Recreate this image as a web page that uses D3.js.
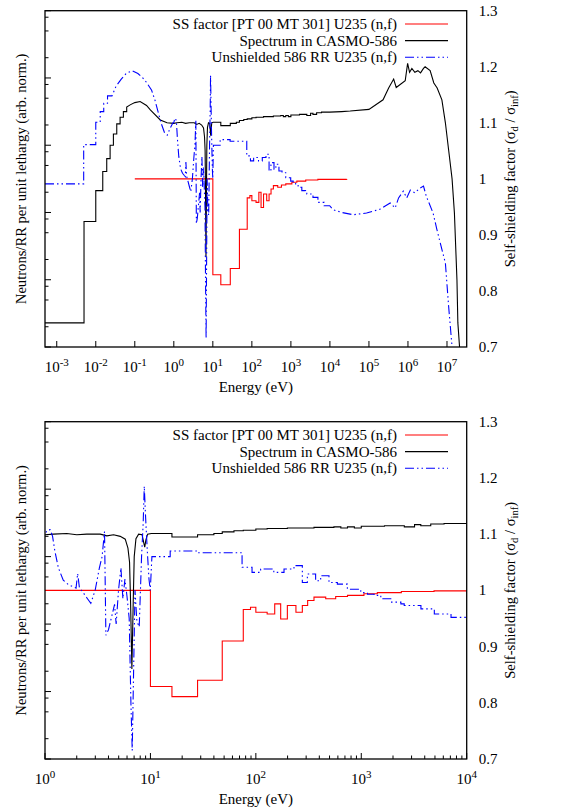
<!DOCTYPE html>
<html>
<head>
<meta charset="utf-8">
<script src="https://cdn.jsdelivr.net/npm/d3@7"></script>
<style>
  body { margin: 0; background: #fff; }
</style>
</head>
<body>
<div id="chart"></div>
<script>
// series data, energies in eV, values in self-shielding-factor units
// SS factor: group lower bounds and group values (step after)
const ssE = [0.1, 10, 16, 28, 48, 76, 89, 100, 128, 151, 172, 199, 240, 276, 310, 356, 460, 572, 740, 1060, 1420, 2400, 4900, 27000];
const ssV = [1.0, 0.829, 0.811, 0.840, 0.910, 0.966, 0.970, 0.961, 0.958, 0.976, 0.949, 0.973, 0.961, 0.973, 0.982, 0.988, 0.985, 0.989, 0.991, 0.994, 0.996, 0.998, 0.999, 0.9995];

// spectrum in CASMO-586
const specE = [5e-4, 0.005, 0.005, 0.01, 0.01, 0.0151, 0.0151, 0.0191, 0.0191, 0.0233, 0.0233, 0.0283, 0.0283, 0.0345, 0.0345, 0.042, 0.042, 0.051, 0.051, 0.062, 0.062, 0.076, 0.1, 0.137, 0.2, 0.25, 0.45, 0.67,
  1.0, 1.2, 1.61, 2.0, 2.49, 3.34, 3.86, 4.47, 5.17, 5.77, 6.12, 6.34, 6.48, 6.67, 6.87, 7.02, 7.29, 7.73, 8.33, 8.64, 8.83, 9.06, 9.4, 10.2,
  16, 16, 28, 28, 40, 40, 48, 48, 62, 62, 76, 76, 100, 100, 128, 128, 199, 199, 356, 356, 550, 550, 640, 640, 740, 740, 860, 860, 1000, 1000, 1660, 1660, 2560, 2560, 3200, 3200, 3670, 3670, 4560, 4560, 6100, 6100, 9800,
  2e4, 3.3e4, 1e5, 2.3e5, 3.2e5, 4.3e5, 5e5, 8.5e5, 9.8e5, 1.1e6, 1.26e6, 1.5e6, 1.8e6, 2.1e6, 2.5e6, 2.75e6, 3.7e6, 4.6e6, 5.6e6, 7.4e6, 9.1e6, 1.1e7, 1.35e7, 1.55e7, 1.8e7, 1.9e7, 2.1e7];
const specV = [0.743, 0.743, 0.924, 0.924, 0.979, 0.979, 1.013, 1.013, 1.036, 1.036, 1.06, 1.06, 1.08, 1.08, 1.098, 1.098, 1.11, 1.11, 1.12, 1.12, 1.128, 1.132, 1.136, 1.138, 1.131, 1.123, 1.105, 1.1,
  1.099, 1.1, 1.101, 1.099, 1.1, 1.1, 1.097, 1.099, 1.096, 1.091, 1.075, 1.05, 0.98, 0.86, 0.98, 1.06, 1.092, 1.1, 1.099, 1.085, 1.077, 1.09, 1.1, 1.101,
  1.101, 1.095, 1.095, 1.099, 1.099, 1.101, 1.101, 1.104, 1.104, 1.106, 1.106, 1.107, 1.107, 1.109, 1.109, 1.11, 1.11, 1.111, 1.111, 1.112, 1.112, 1.113, 1.113, 1.111, 1.111, 1.113, 1.113, 1.111, 1.111, 1.114, 1.114, 1.115, 1.115, 1.113, 1.113, 1.117, 1.117, 1.115, 1.115, 1.118, 1.118, 1.119, 1.119, 1.12,
  1.121, 1.124, 1.141, 1.162, 1.178, 1.163, 1.175, 1.206, 1.19, 1.197, 1.19, 1.193, 1.189, 1.197, 1.2, 1.193, 1.171, 1.162, 1.141, 1.1, 1.052, 1.0, 0.939, 0.82, 0.743, 0.7, 0.65];

// unshielded 586 RR U235 (n,f)
const rrE = [5e-4, 0.0049, 0.0049, 0.01, 0.01, 0.013, 0.013, 0.016, 0.016, 0.02, 0.02, 0.026, 0.033, 0.045, 0.06, 0.085, 0.12, 0.16, 0.2, 0.27, 0.33, 0.4, 0.48, 0.58, 0.68, 0.8, 0.95,
  1.0, 1.05, 1.12, 1.18, 1.24, 1.34, 1.49, 1.67, 1.86, 1.97, 2.04, 2.12, 2.32, 2.53, 2.72, 2.99, 3.28, 3.48, 3.67, 3.78, 4.0, 4.31, 4.57, 4.73, 4.98, 5.25, 5.48, 5.73, 5.99, 6.29, 6.53, 6.72, 6.93, 7.14, 7.44, 7.83, 8.24, 8.54, 8.74, 9.0, 9.34, 9.69, 9.97, 10.33,
  15.4, 15.4, 27.7, 27.7, 74, 74, 92, 92, 111, 111, 148, 148, 185, 185, 230, 230, 276, 276, 308, 308, 369, 369, 412, 412, 494, 494, 593, 593, 738, 738, 989, 989, 1145, 1145, 1324, 1324, 1532, 1532, 1905, 1905, 2375, 2375, 2555, 2555, 3680, 3680, 4930, 4930, 7100, 7100, 9860,
  1.2e4, 2e4, 4e4, 8.7e4, 1.95e5, 3.5e5, 4.7e5, 5.75e5, 7.6e5, 9.3e5, 1.15e6, 1.5e6, 2e6, 2.5e6, 2.95e6, 4.4e6, 5.5e6, 7.4e6, 9.1e6, 1.1e7, 1.35e7, 1.5e7];
const rrV = [0.991, 0.991, 1.061, 1.061, 1.101, 1.101, 1.12, 1.12, 1.135, 1.135, 1.148, 1.148, 1.165, 1.178, 1.188, 1.193, 1.188, 1.18, 1.172, 1.158, 1.14, 1.118, 1.098, 1.082, 1.078, 1.09, 1.1,
  1.1, 1.107, 1.108, 1.096, 1.07, 1.04, 1.018, 1.01, 1.006, 1.004, 1.03, 1.005, 0.995, 0.985, 0.977, 1.0, 1.04, 1.06, 1.105, 0.92, 0.93, 0.955, 0.975, 0.94, 1.0, 1.04, 0.985, 1.02, 0.99, 0.95, 0.8, 0.715, 0.86, 1.0, 0.945, 0.935, 1.06, 1.12, 1.185, 1.13, 1.07, 1.02, 1.0, 1.06,
  1.06, 1.07, 1.07, 1.067, 1.067, 1.041, 1.041, 1.032, 1.032, 1.038, 1.038, 1.032, 1.032, 1.038, 1.038, 1.044, 1.044, 1.014, 1.014, 1.029, 1.029, 1.017, 1.017, 1.026, 1.026, 1.014, 1.014, 1.011, 1.011, 1.002, 1.002, 0.996, 0.996, 0.993, 0.993, 0.991, 0.991, 0.985, 0.985, 0.979, 0.979, 0.976, 0.976, 0.973, 0.973, 0.967, 0.967, 0.958, 0.958, 0.952, 0.952,
  0.945, 0.94, 0.936, 0.939, 0.946, 0.957, 0.948, 0.966, 0.978, 0.966, 0.98, 0.975, 0.983, 0.987, 0.969, 0.939, 0.91, 0.874, 0.85, 0.773, 0.7, 0.65];

const legendLabels = ["SS factor [PT 00 MT 301] U235 (n,f)", "Spectrum in CASMO-586", "Unshielded 586 RR U235 (n,f)"];
const rightTicks = [0.7, 0.8, 0.9, 1.0, 1.1, 1.2, 1.3];

const width = 565, height = 812;
const fs = 15;
const serif = '"Liberation Serif", "Times New Roman", Times, "DejaVu Serif", serif';

const svg = d3.select('#chart').append('svg')
    .attr('width', width)
    .attr('height', height)
    .attr('font-family', serif)
    .style('font-family', serif);

const ss = ssE.map((e, i) => ({e: e, v: ssV[i]}));
const spec = specE.map((e, i) => ({e: e, v: specV[i]}));
const rr = rrE.map((e, i) => ({e: e, v: rrV[i]}));

const series = [
    {data: ss, color: "#ff0000", dash: null, curve: d3.curveStepAfter},
    {data: spec, color: "#000000", dash: null, curve: d3.curveLinear},
    {data: rr, color: "#0000ff", dash: "9,3,1.5,3,1.5,3", curve: d3.curveLinear}
];

const panels = [
    {id: "top", left: 45, right: 466.7, top: 10.7, bottom: 347, xDomain: [5e-4, 3.2e7], decades: d3.range(-3, 8), minor: false},
    {id: "bot", left: 45, right: 466.7, top: 421.7, bottom: 759, xDomain: [1, 1e4], decades: d3.range(0, 5), minor: true}
];

panels.forEach(drawPanel);

function drawPanel(p) {
    let g = svg.append('g').attr('id', p.id);

    let x = d3.scaleLog().domain(p.xDomain).range([p.left, p.right]);
    let y = d3.scaleLinear().domain([0.7, 1.3]).range([p.bottom, p.top]);
    let yL = d3.scaleLog().domain([1, 1e5]).range([p.bottom, p.top]);

    g.append('clipPath').attr('id', 'clip-' + p.id)
        .append('rect')
        .attr('x', p.left).attr('y', p.top)
        .attr('width', p.right - p.left).attr('height', p.bottom - p.top);

    // left axis: log ticks, no labels
    let leftTicks = [];
    for (let k = 0; k < 5; k++) {
        [1, 2, 5, 8].forEach(m => leftTicks.push({v: m * Math.pow(10, k), major: m === 1}));
    }
    leftTicks.push({v: 1e5, major: true});
    g.selectAll('.ltick')
        .data(leftTicks)
        .join('line')
        .attr('class', 'ltick')
        .attr('x1', p.left)
        .attr('x2', d => p.left + (d.major ? 6 : 3.5))
        .attr('y1', d => yL(d.v))
        .attr('y2', d => yL(d.v))
        .attr('stroke', '#000')
        .attr('stroke-width', 1);

    // x ticks
    let xt = p.decades.map(d => ({v: Math.pow(10, d), major: true, d: d}));
    if (p.minor) {
        p.decades.slice(0, -1).forEach(d => {
            d3.range(2, 10).forEach(m => xt.push({v: m * Math.pow(10, d), major: false}));
        });
    }
    g.selectAll('.xtick')
        .data(xt)
        .join('line')
        .attr('class', 'xtick')
        .attr('x1', d => x(d.v))
        .attr('x2', d => x(d.v))
        .attr('y1', p.bottom)
        .attr('y2', d => p.bottom - (d.major ? 6 : 3.5))
        .attr('stroke', '#000')
        .attr('stroke-width', 1);

    let xl = g.selectAll('.xlab')
        .data(xt.filter(d => d.major))
        .join('text')
        .attr('class', 'xlab')
        .attr('x', d => x(d.v))
        .attr('y', p.bottom + 25)
        .attr('text-anchor', 'middle')
        .attr('font-size', fs);
    xl.append('tspan').text('10');
    xl.append('tspan')
        .attr('dy', -6)
        .attr('font-size', 11)
        .text(d => d.d < 0 ? '-' + (-d.d) : d.d);

    g.append('text')
        .attr('x', (p.left + p.right) / 2)
        .attr('y', p.bottom + 45)
        .attr('text-anchor', 'middle')
        .attr('font-size', fs)
        .text('Energy (eV)');

    // right axis labels
    g.selectAll('.rlab')
        .data(rightTicks)
        .join('text')
        .attr('class', 'rlab')
        .attr('x', p.right + 12)
        .attr('y', d => y(d) + 5)
        .attr('font-size', fs)
        .text(d => d3.format('')(+d.toFixed(1)));

    let midY = (p.top + p.bottom) / 2;
    g.append('text')
        .attr('transform', `translate(25.5,${midY}) rotate(-90)`)
        .attr('text-anchor', 'middle')
        .attr('font-size', 14.6)
        .text('Neutrons/RR per unit lethargy (arb. norm.)');

    let rl = g.append('text')
        .attr('transform', `translate(515,${midY}) rotate(-90)`)
        .attr('text-anchor', 'middle')
        .attr('font-size', 14.6);
    rl.append('tspan').text('Self-shielding factor (\u03c3');
    rl.append('tspan').attr('dy', 3).attr('font-size', 10.5).text('d');
    rl.append('tspan').attr('dy', -3).text(' / \u03c3');
    rl.append('tspan').attr('dy', 3).attr('font-size', 10.5).text('inf');
    rl.append('tspan').attr('dy', -3).text(')');

    // curves
    let plot = g.append('g').attr('clip-path', `url(#clip-${p.id})`);
    series.forEach(s => {
        let line = d3.line()
            .x(d => x(d.e))
            .y(d => y(d.v))
            .curve(s.curve);
        plot.append('path')
            .datum(s.data)
            .attr('d', line)
            .attr('fill', 'none')
            .attr('stroke', s.color)
            .attr('stroke-width', 1.1)
            .attr('stroke-dasharray', s.dash);
    });

    // frame
    g.append('rect')
        .attr('x', p.left).attr('y', p.top)
        .attr('width', p.right - p.left).attr('height', p.bottom - p.top)
        .attr('fill', 'none')
        .attr('stroke', '#000')
        .attr('stroke-width', 1.3);

    // legend
    let lg = g.selectAll('.leg')
        .data(series)
        .join('g')
        .attr('class', 'leg')
        .attr('transform', (d, i) => `translate(0,${p.top + 13.3 + i * 16.6})`);
    lg.append('text')
        .attr('x', 397)
        .attr('y', 5)
        .attr('text-anchor', 'end')
        .attr('font-size', fs)
        .text((d, i) => legendLabels[i]);
    lg.append('line')
        .attr('x1', 405).attr('x2', 448)
        .attr('y1', 0).attr('y2', 0)
        .attr('stroke', d => d.color)
        .attr('stroke-width', 1.1)
        .attr('stroke-dasharray', d => d.dash);
}
</script>
</body>
</html>
